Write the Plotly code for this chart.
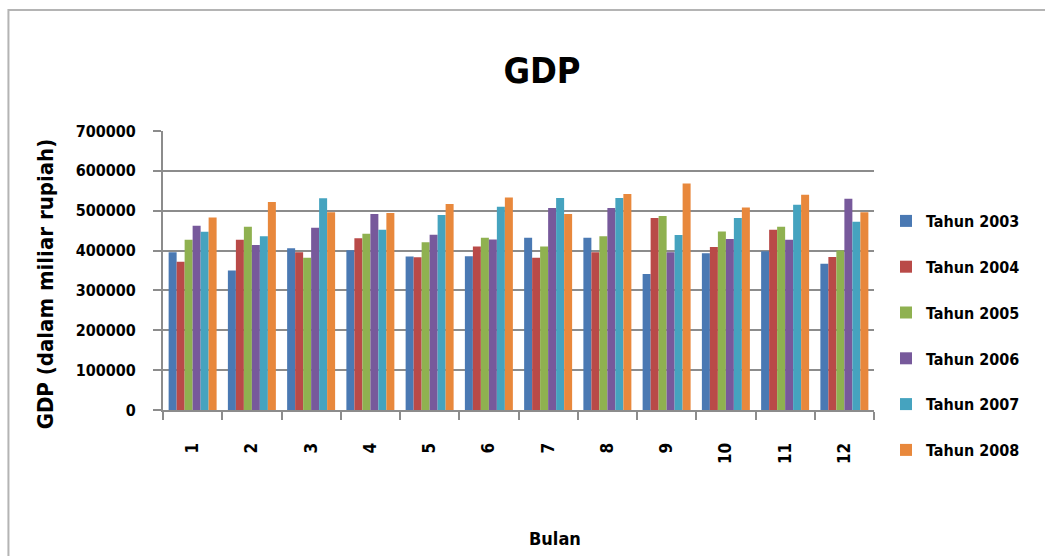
import plotly.graph_objects as go

# Monthly GDP (billion rupiah) by year
bulan = [str(m) for m in range(1, 13)]

tahun_2003 = [396000, 350000, 406000, 401000, 385000, 386000, 432000, 432000, 341000, 393000, 398000, 367000]
tahun_2004 = [372000, 427000, 396000, 431000, 383000, 410000, 382000, 396000, 482000, 409000, 452000, 384000]
tahun_2005 = [427000, 460000, 382000, 442000, 421000, 432000, 410000, 436000, 487000, 448000, 460000, 400000]
tahun_2006 = [462000, 414000, 457000, 492000, 440000, 428000, 507000, 507000, 396000, 429000, 427000, 530000]
tahun_2007 = [447000, 436000, 531000, 452000, 489000, 510000, 532000, 532000, 439000, 482000, 515000, 472000]
tahun_2008 = [483000, 522000, 496000, 494000, 517000, 533000, 492000, 542000, 568000, 508000, 540000, 496000]

series_names = ["Tahun 2003", "Tahun 2004", "Tahun 2005", "Tahun 2006", "Tahun 2007", "Tahun 2008"]
series_values = [tahun_2003, tahun_2004, tahun_2005, tahun_2006, tahun_2007, tahun_2008]
series_colors = ["#4a79b3", "#b94a48", "#8fb150", "#77599b", "#45a3bf", "#e8883c"]

y_ticks = [0, 100000, 200000, 300000, 400000, 500000, 600000, 700000]

FONT = "DejaVu Sans Condensed, DejaVu Sans, sans-serif"
W, H = 1045, 556
ML, MR, MT, MB = 163, 169, 131, 146
PW, PH = W - ML - MR, H - MT - MB

fig = go.Figure()
for name, vals, col in zip(series_names, series_values, series_colors):
    fig.add_trace(go.Bar(
        x=bulan, y=vals, name=name, marker=dict(color=col, line=dict(width=0)),
        legendgroup=name,
    ))


def px_x(px):
    return (px - ML) / PW


def px_y(py):
    return (H - MB - py) / PH


# outer chart border
fig.add_shape(type="rect", xref="paper", yref="paper",
              x0=px_x(8), x1=px_x(W + 10), y0=px_y(H + 10), y1=px_y(10),
              line=dict(color="#b4b4b4", width=2), fillcolor="rgba(0,0,0,0)", layer="below")

# axis titles
fig.add_annotation(text="Bulan", xref="paper", yref="paper",
                   x=px_x(556), y=px_y(538), xanchor="center", yanchor="middle",
                   showarrow=False,
                   font=dict(family=FONT, size=18, color="black", weight="bold"))
fig.add_annotation(text="GDP (dalam miliar rupiah)", xref="paper", yref="paper",
                   x=px_x(45), y=px_y(284), xanchor="center", yanchor="middle",
                   textangle=-90, showarrow=False,
                   font=dict(family=FONT, size=22, color="black", weight="bold"))

fig.update_layout(
    width=W, height=H,
    margin=dict(l=ML, r=MR, t=MT, b=MB),
    paper_bgcolor="white", plot_bgcolor="white",
    barmode="group", bargap=0.19, bargroupgap=0,
    title=dict(text="GDP", x=542 / W, xref="container", xanchor="center",
               y=1 - 70 / H, yref="container", yanchor="middle",
               font=dict(family=FONT, size=36, color="black", weight="bold")),
    font=dict(family=FONT, color="black"),
    legend=dict(x=886 / W, xref="container", xanchor="left",
                y=1 - 204 / H, yref="container", yanchor="top",
                maxheight=460,
                font=dict(family=FONT, size=16, color="black", weight="bold"),
                tracegroupgap=22, itemwidth=30, bgcolor="rgba(0,0,0,0)"),
    xaxis=dict(type="category", tickson="boundaries", ticks="outside", ticklen=8,
               tickcolor="#8c8c8c", tickwidth=2,
               showline=True, linecolor="#8c8c8c", linewidth=2,
               showgrid=False, tickangle=-90, ticklabelstandoff=24,
               tickfont=dict(family=FONT, size=17, color="black", weight="bold")),
    yaxis=dict(range=[0, 700000], tickvals=y_ticks, ticktext=[str(v) for v in y_ticks],
               ticks="outside", ticklen=8, tickcolor="#8c8c8c", tickwidth=2,
               showline=True, linecolor="#8c8c8c", linewidth=2,
               showgrid=True, gridcolor="#8c8c8c", gridwidth=2, zeroline=False,
               ticklabelstandoff=14,
               tickfont=dict(family=FONT, size=16, color="black", weight="bold")),
)

fig.write_html("out.html")
